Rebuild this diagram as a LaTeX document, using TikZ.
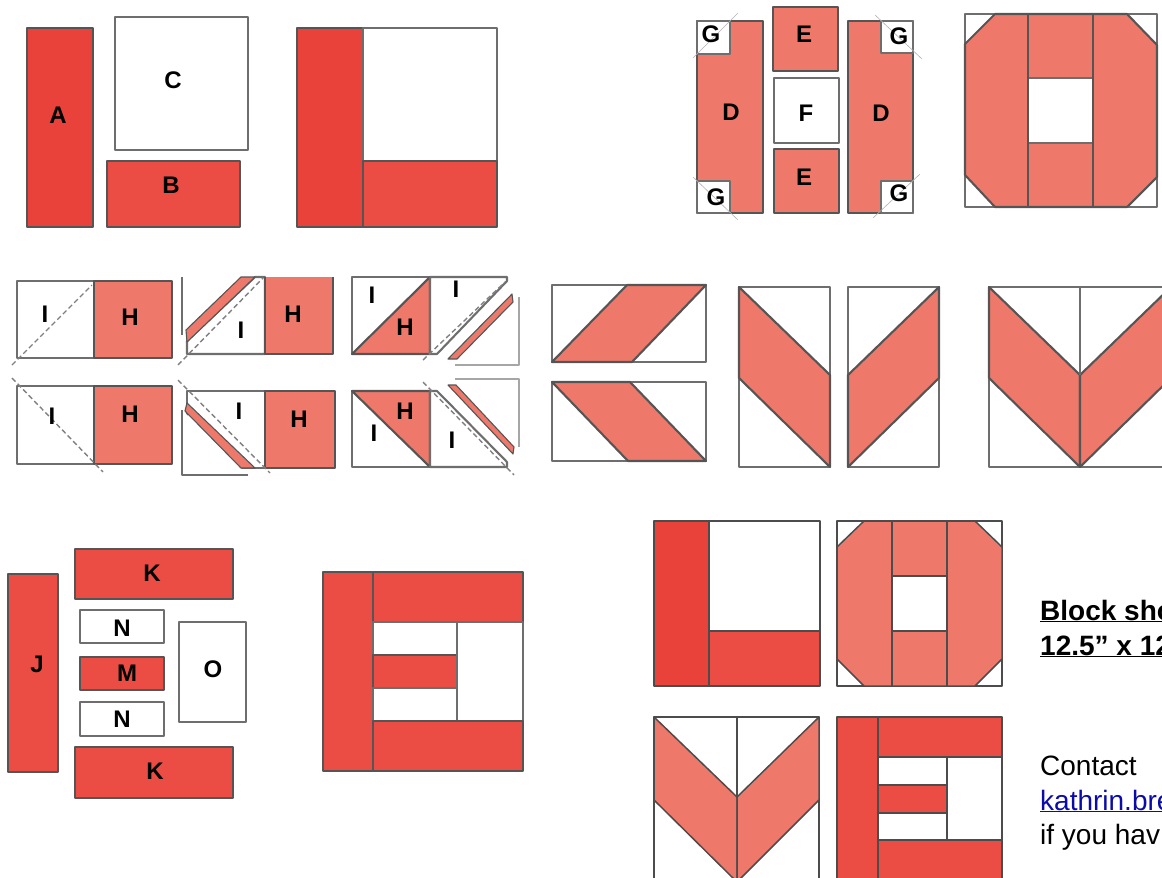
\documentclass[tikz,border=0pt]{standalone}
\usepackage{fontspec}
\setmainfont{Liberation Sans}
\definecolor{redpatch}{HTML}{E8423A}
\definecolor{brickpatch}{HTML}{EB4C43}
\definecolor{salmonpatch}{HTML}{EE796B}
\definecolor{seamgray}{HTML}{555555}
\definecolor{linkblue}{HTML}{0B0BA8}
\tikzset{
  seam/.style={draw=seamgray, line width=2.1pt, line join=round},
  fineseam/.style={draw=seamgray!90!black, line width=1.5pt, line join=round},
  blockred/.style={seam, fill=redpatch},
  brick/.style={seam, fill=brickpatch},
  salmon/.style={seam, fill=salmonpatch},
  blank/.style={seam, draw=seamgray!85, fill=white},
  sliver/.style={draw=seamgray, line width=1.1pt, line join=round, fill=salmonpatch},
  foldline/.style={draw=gray, line width=1.4pt, dash pattern=on 5pt off 3pt},
  trimline/.style={draw=gray!60, line width=.6pt},
  letter/.style={font=\fontsize{24}{26}\selectfont\bfseries, inner sep=0pt},
  notehead/.style={anchor=base west, inner sep=0pt, font=\fontsize{28}{30}\selectfont\bfseries},
  notetext/.style={anchor=base west, inner sep=0pt, font=\fontsize{28}{30}\selectfont}
}
\begin{document}
\begin{tikzpicture}[x=1pt,y=-1pt]
\useasboundingbox (0,0) rectangle (1162,878);
\clip (0,0) rectangle (1162,878);
% Block 1: pieces A, B, C
\draw[blockred] (27,28) rectangle (93,227);
\draw[blank] (115,17) rectangle (248,150);
\draw[brick] (107,161) rectangle (240,227);
\node[letter] (labelA) at (58,115) {A};
\node[letter] (labelC) at (173,80) {C};
\node[letter] (labelB) at (171,185) {B};
% Block 1: sewn
\draw[blockred] (297,28) rectangle (363,227);
\draw[blank] (363,28) rectangle (497,161);
\draw[brick] (363,161) rectangle (497,227);

% Block 2: pieces D, E, F, G
\draw[salmon] (697,21) rectangle (763,213);
\draw[salmon] (848,21) rectangle (913,213);
\draw[salmon] (773,7) rectangle (838,71);
\draw[blank] (774,78) rectangle (839,143);
\draw[salmon] (774,149) rectangle (839,213);
\draw[blank] (697,21) rectangle (730,54);
\draw[blank] (697,181) rectangle (730,213);
\draw[blank] (881,21) rectangle (913,53);
\draw[blank] (881,181) rectangle (913,213);
\draw[trimline] (738,13) -- (693,58);
\draw[trimline] (693,177) -- (738,220);
\draw[trimline] (875,15) -- (922,59);
\draw[trimline] (920,174) -- (873,218);
\node[letter] (labelGa) at (711,34) {G};
\node[letter] (labelGb) at (716,197) {G};
\node[letter] (labelGc) at (899,36) {G};
\node[letter] (labelGd) at (899,193) {G};
\node[letter] (labelDa) at (731,112) {D};
\node[letter] (labelDb) at (881,113) {D};
\node[letter] (labelEa) at (804,34) {E};
\node[letter] (labelEb) at (804,177) {E};
\node[letter] (labelF) at (806,113) {F};
% Block 2: sewn
\draw[blank] (965,14) rectangle (1157,207);
\draw[salmon] (995,14) -- (1127,14) -- (1157,45) -- (1157,177) -- (1127,207) -- (995,207) -- (965,175) -- (965,44) -- cycle;
\draw[blank] (1028,78) rectangle (1093,143);
\draw[seam] (1028,14) -- (1028,207);
\draw[seam] (1093,14) -- (1093,207);

% Block 3: first column
\draw[blank] (17,281) rectangle (94,358);
\draw[salmon] (94,281) rectangle (172,358);
\draw[foldline] (12,365) -- (92,285);
\node[letter] (labelIa) at (45,314) {I};
\node[letter] (labelHa) at (130,317) {H};
\draw[blank] (17,386) rectangle (94,464);
\draw[salmon] (94,386) rectangle (172,464);
\draw[foldline] (12,378) -- (103,472);
\node[letter] (labelIb) at (52,416) {I};
\node[letter] (labelHb) at (130,414) {H};
% Block 3: second column
\draw[blank] (255,277) -- (265,277) -- (265,354) -- (187,354) -- (187,341) -- cycle;
\fill[salmonpatch] (265,277) rectangle (333,354);
\draw[seam] (265,277) -- (265,354) -- (333,354) -- (333,277);
\draw[sliver] (186,330) -- (241,277) -- (255,277) -- (187,342) -- cycle;
\draw[blank] (182,277) -- (182,335);
\draw[foldline] (178,365) -- (263,278);
\node[letter] (labelIc) at (241,330) {I};
\node[letter] (labelHc) at (293,314) {H};
\draw[blank] (187,391) rectangle (265,468);
\draw[salmon] (265,391) rectangle (335,468);
\draw[blank, fill=white] (182,410) -- (182,475) -- (248,475);
\draw[sliver] (187,403) -- (255,468) -- (241,468) -- (185,411) -- cycle;
\draw[foldline] (178,380) -- (270,473);
\node[letter] (labelId) at (239,411) {I};
\node[letter] (labelHd) at (299,419) {H};
% Block 3: third column
\draw[blank] (352,277) rectangle (430,354);
\draw[salmon] (352,354) -- (430,277) -- (430,354) -- cycle;
\draw[blank] (430,277) -- (507,277) -- (507,281) -- (437,354) -- (430,354) -- cycle;
\draw[foldline] (423,360) -- (505,282);
\draw[blank, draw=gray!70] (519,297) -- (519,365) -- (455,365);
\draw[sliver] (448,359) -- (512,294) -- (513,302) -- (457,359) -- cycle;
\node[letter] (labelIe) at (372,295) {I};
\node[letter] (labelIf) at (456,289) {I};
\node[letter] (labelHe) at (405,327) {H};
\draw[blank] (352,391) rectangle (430,467);
\draw[salmon] (352,391) -- (430,391) -- (430,467) -- cycle;
\draw[blank] (430,391) -- (437,391) -- (507,462) -- (507,467) -- (430,467) -- cycle;
\draw[foldline] (423,382) -- (514,475);
\draw[blank, draw=gray!70] (455,379) -- (519,379) -- (519,447);
\draw[sliver] (456,385) -- (514,447) -- (513,454) -- (448,385) -- cycle;
\node[letter] (labelIg) at (374,433) {I};
\node[letter] (labelIh) at (452,440) {I};
\node[letter] (labelHf) at (405,411) {H};
% Block 3: parallelograms
\draw[blank] (552,285) rectangle (706,362);
\draw[salmon] (552,362) -- (627,285) -- (706,285) -- (632,362) -- cycle;
\draw[blank] (552,382) rectangle (706,461);
\draw[salmon] (552,382) -- (630,382) -- (706,461) -- (628,461) -- cycle;
% Block 3: chevron halves
\draw[blank] (739,287) rectangle (830,467);
\draw[salmon] (739,287) -- (830,375) -- (830,467) -- (739,378) -- cycle;
\draw[blank] (848,287) rectangle (939,467);
\draw[salmon] (939,287) -- (848,375) -- (848,467) -- (939,378) -- cycle;
% Block 3: sewn
\draw[blank] (989,287) rectangle (1171,467);
\draw[salmon] (989,287) -- (1080,375) -- (1080,467) -- (989,378) -- cycle;
\draw[salmon] (1171,287) -- (1080,375) -- (1080,467) -- (1171,378) -- cycle;
\draw[blank, fill=none] (1080,287) -- (1080,375);

% Block 4: pieces J, K, M, N, O
\draw[brick] (8,574) rectangle (58,772);
\draw[brick] (75,549) rectangle (233,599);
\draw[blank] (80,610) rectangle (164,643);
\draw[brick] (80,657) rectangle (164,690);
\draw[blank] (80,702) rectangle (164,736);
\draw[blank] (179,622) rectangle (246,722);
\draw[brick] (75,747) rectangle (233,798);
\node[letter] (labelJ) at (37,664) {J};
\node[letter] (labelKa) at (152,573) {K};
\node[letter] (labelNa) at (122,628) {N};
\node[letter] (labelM) at (127,673) {M};
\node[letter] (labelNb) at (122,719) {N};
\node[letter] (labelO) at (213,669) {O};
\node[letter] (labelKb) at (155,771) {K};
% Block 4: sewn
\draw[brick] (323,572) rectangle (373,771);
\draw[brick] (373,572) rectangle (523,622);
\draw[blank] (373,622) rectangle (457,655);
\draw[brick] (373,655) rectangle (457,688);
\draw[blank] (373,688) rectangle (457,721);
\draw[blank] (457,622) rectangle (523,721);
\draw[brick] (373,721) rectangle (523,771);

% Finished quilt: L
\draw[blockred, fineseam] (654,521) rectangle (709,686);
\draw[blank, fineseam] (709,521) rectangle (820,631);
\draw[brick, fineseam] (709,631) rectangle (820,686);
% Finished quilt: O
\draw[blank, fineseam] (837,521) rectangle (1002,686);
\draw[salmon, fineseam] (864,521) -- (975,521) -- (1002,547) -- (1002,659) -- (975,686) -- (864,686) -- (837,659) -- (837,547) -- cycle;
\draw[blank, fineseam] (892,576) rectangle (947,631);
\draw[fineseam] (892,521) -- (892,686);
\draw[fineseam] (947,521) -- (947,686);
% Finished quilt: V
\draw[blank, fineseam] (654,717) rectangle (819,882);
\draw[salmon, fineseam] (654,717) -- (737,797) -- (737,882) -- (654,800) -- cycle;
\draw[salmon, fineseam] (819,717) -- (737,797) -- (737,882) -- (819,800) -- cycle;
\draw[fineseam] (737,717) -- (737,797);
% Finished quilt: E
\draw[brick, fineseam] (837,717) rectangle (878,882);
\draw[brick, fineseam] (878,717) rectangle (1002,757);
\draw[blank, fineseam] (878,757) rectangle (947,785);
\draw[brick, fineseam] (878,785) rectangle (947,813);
\draw[blank, fineseam] (878,813) rectangle (947,840);
\draw[blank, fineseam] (947,757) rectangle (1002,840);
\draw[brick, fineseam] (878,840) rectangle (1002,882);

% Notes, cut by the page edge
\node[notehead] (noteSize) at (1040,620) {\underline{Block sho}};
\node[notehead] (noteInches) at (1040,655) {\underline{12.5” x 12}};
\node[notetext] (noteContact) at (1040,775) {Contact};
\node[notetext, text=linkblue] (noteMail) at (1040,810) {\underline{kathrin.bre}};
\node[notetext] (noteQuestion) at (1040,844) {if you hav};
\end{tikzpicture}
\end{document}
